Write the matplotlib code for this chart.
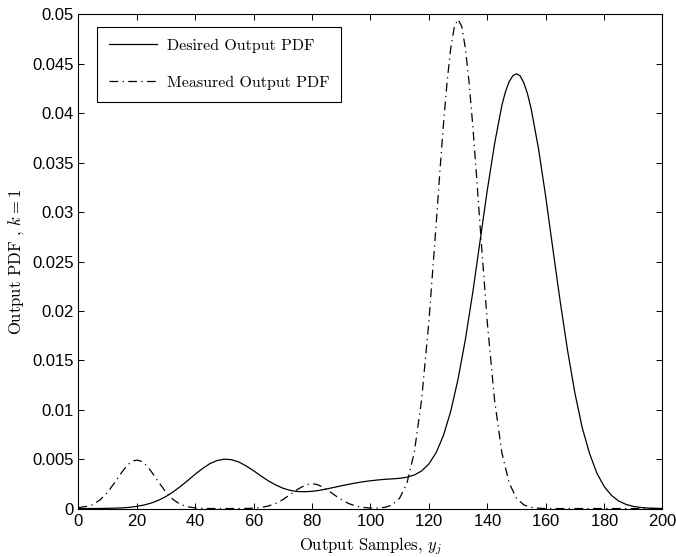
import numpy as np
import matplotlib
matplotlib.use('Agg')
import matplotlib.pyplot as plt
from matplotlib.ticker import FuncFormatter

plt.rcParams['mathtext.fontset'] = 'cm'
plt.rcParams['axes.formatter.use_mathtext'] = True

# output samples (every 2.5 from 0 to 200)
samples = np.linspace(0, 200, 81)

desired_pdf = [
    0, 0, 0, 0.00001, 0.00002, 0.00004, 0.00007, 0.00012, 0.00022, 0.00036,
    0.00056, 0.00085, 0.00122, 0.0017, 0.00225, 0.00285, 0.00348, 0.00405, 0.00454, 0.00486,
    0.0050, 0.00494, 0.0047, 0.0043, 0.00382, 0.0033, 0.00281, 0.0024, 0.00206, 0.00184,
    0.00172, 0.0017, 0.00174, 0.00184, 0.00198, 0.00214, 0.0023, 0.00245, 0.00259, 0.00271,
    0.00281, 0.00289, 0.00296, 0.0030, 0.00306, 0.00317, 0.00339, 0.0038, 0.00451, 0.00566,
    0.0074, 0.00985, 0.0131, 0.0171, 0.0218, 0.0270, 0.0322, 0.0369, 0.0408, 0.0432,
    0.0440, 0.0431, 0.0405, 0.0365, 0.0316, 0.0262, 0.0209, 0.0160, 0.0117, 0.0082,
    0.0056, 0.0036, 0.00224, 0.00134, 0.00076, 0.00042, 0.00022, 0.00011, 0.00005, 0.00002,
    0.00001,
]
# extra samples around the main peak
desired_extra_x = [146.25, 148.75, 151.25, 153.75]
desired_extra = [0.0422, 0.0438, 0.0438, 0.0420]

measured_pdf = [
    0.0001, 0.0002, 0.0004, 0.0009, 0.00165, 0.00266, 0.00373, 0.00458, 0.0049, 0.00458,
    0.00373, 0.00266, 0.00165, 0.0009, 0.0004, 0.00018, 0.00006, 0.00002, 0, 0,
    0, 0, 0, 0.00001, 0.00004, 0.00011, 0.00025, 0.00051, 0.0009, 0.00141,
    0.00194, 0.00234, 0.0025, 0.00234, 0.00194, 0.00141, 0.0009, 0.00051, 0.00025, 0.00011,
    0.00005, 0.00005, 0.00012, 0.00037, 0.00105, 0.00258, 0.00565, 0.01097, 0.01887, 0.02877,
    0.0389, 0.0466, 0.0495, 0.0466, 0.0389, 0.02877, 0.01887, 0.01097, 0.00565, 0.00258,
    0.00105, 0.00037, 0.00012, 0.00003, 0, 0, 0, 0, 0, 0,
    0, 0, 0, 0, 0, 0, 0, 0, 0, 0,
    0,
]
# extra samples around the peaks
measured_extra_x = [16.25, 18.75, 21.25, 23.75, 78.75, 81.25,
                    123.75, 126.25, 128.75, 131.25, 133.75, 136.25]
measured_extra = [0.0042, 0.00482, 0.00482, 0.0042, 0.00246, 0.00246,
                  0.034, 0.0432, 0.0488, 0.0488, 0.0432, 0.034]


def merge(xs, ys, ex, ey):
    x = np.concatenate([xs, ex])
    y = np.concatenate([ys, ey])
    order = np.argsort(x)
    return x[order], y[order]


dx, dy = merge(samples, desired_pdf, desired_extra_x, desired_extra)
mx, my = merge(samples, measured_pdf, measured_extra_x, measured_extra)

fig, ax = plt.subplots(figsize=(6.76, 5.57), dpi=100)
fig.subplots_adjust(left=0.116, right=0.980, bottom=0.087, top=0.974)

ax.plot(dx, dy, color='k', lw=0.9, label='Desired Output PDF')
ax.plot(mx, my, color='k', lw=0.9, linestyle=(0, (7, 3.5, 1, 3.5)),
        label='Measured Output PDF')

ax.set_xlim(0, 200)
ax.set_ylim(0, 0.05)
ax.set_xticks(np.arange(0, 201, 20))
ax.set_yticks(np.arange(0, 0.0501, 0.005))
ax.yaxis.set_major_formatter(FuncFormatter(lambda v, p: '%g' % round(v, 4)))
ax.tick_params(direction='in', top=True, right=True, length=4, width=0.7,
               labelsize=12)
for lab in ax.get_xticklabels() + ax.get_yticklabels():
    lab.set_family('Liberation Sans')
for s in ax.spines.values():
    s.set_linewidth(0.8)

ax.set_xlabel('Output Samples, $y_j$', family='cmr10', fontsize=12, labelpad=4)
ax.set_ylabel('Output PDF , $k=1$', family='cmr10', fontsize=12, labelpad=4)

leg = ax.legend(loc='upper left', bbox_to_anchor=(0.032, 0.975), borderaxespad=0,
                fancybox=False, edgecolor='k', framealpha=1, handlelength=3.0,
                handletextpad=0.6, labelspacing=1.4, borderpad=0.75,
                prop={'family': 'cmr10', 'size': 11.5})
leg.get_frame().set_linewidth(0.8)

fig.savefig('out.png', dpi=100)
